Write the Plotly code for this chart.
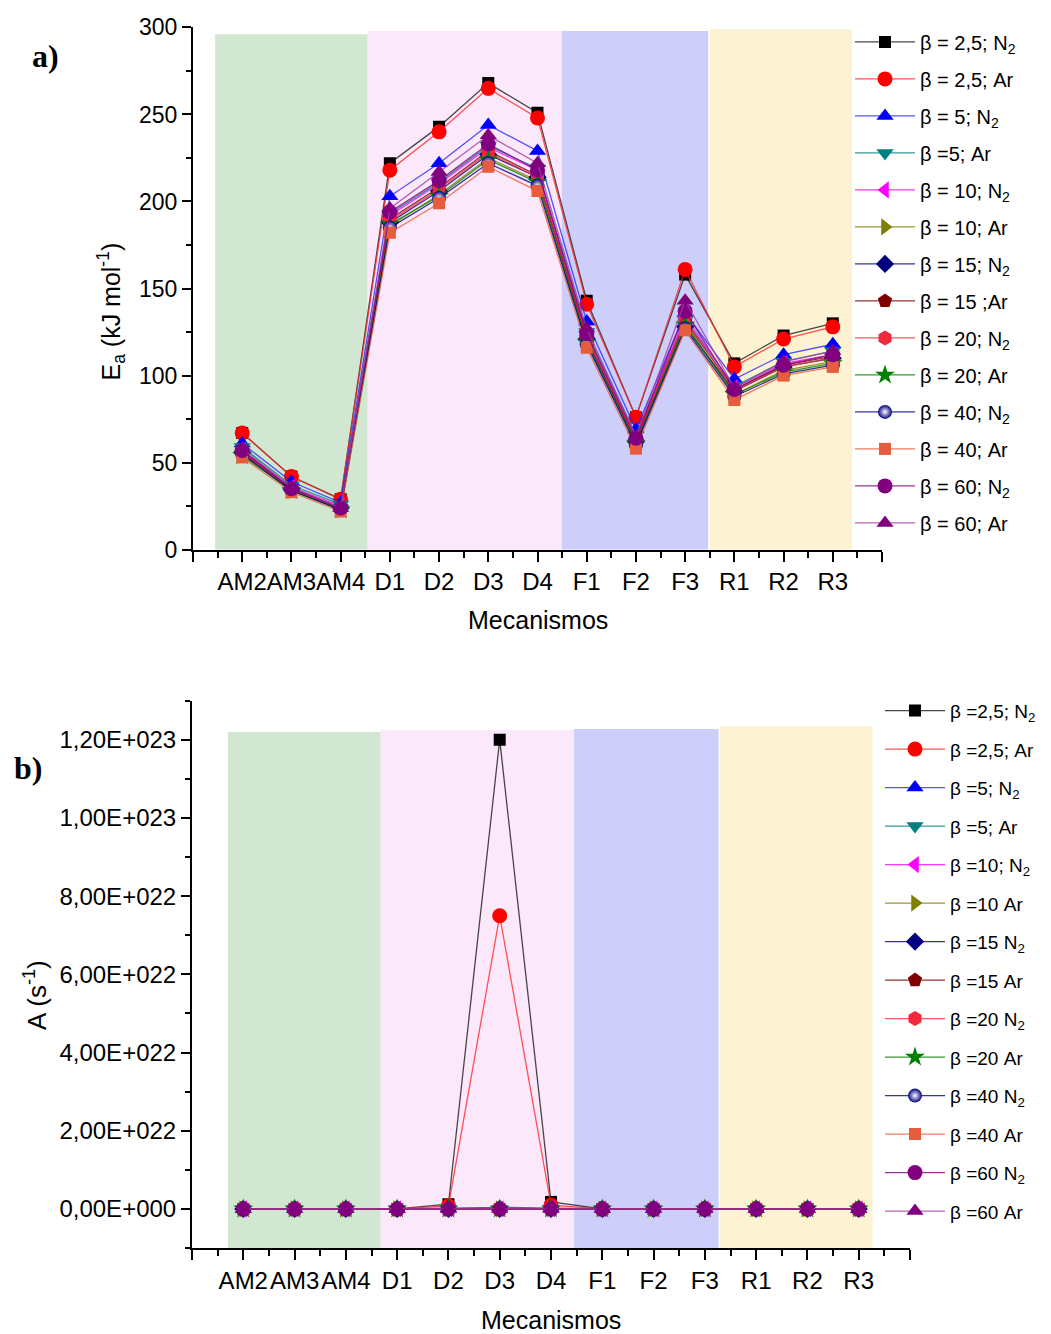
import plotly.graph_objects as go

# ---------------- data ----------------
categories = ["AM2", "AM3", "AM4", "D1", "D2", "D3", "D4", "F1", "F2", "F3", "R1", "R2", "R3"]

# Activation energy Ea (kJ mol-1)
ea_2_5_n2 = [67, 42, 29, 222, 243, 268, 251, 143, 76, 158, 107, 123, 130]
ea_2_5_ar = [67, 42, 29, 218, 240, 265, 248, 141, 76, 161, 105, 121, 128]
ea_5_n2 = [61, 39, 27, 203, 222, 244, 229, 131, 69, 136, 98, 112, 118]
ea_5_ar = [59, 37, 26, 193, 211, 232, 219, 125, 66, 132, 94, 108, 114]
ea_10_n2 = [57, 36, 25, 192, 210, 231, 218, 123, 64, 134, 93, 107, 112]
ea_10_ar = [55, 34, 23, 186, 204, 225, 212, 119, 61, 130, 89, 103, 108]
ea_15_n2 = [56, 35, 24, 188, 206, 227, 214, 121, 62, 128, 91, 105, 110]
ea_15_ar = [56, 35, 24, 190, 208, 229, 215, 121, 63, 131, 92, 106, 111]
ea_20_n2 = [56, 35, 24, 189, 207, 228, 214, 122, 63, 132, 91, 105, 110]
ea_20_ar = [54, 34, 23, 187, 203, 224, 211, 119, 61, 129, 89, 102, 107]
ea_40_n2 = [55, 34, 23, 185, 202, 222, 209, 118, 60, 127, 88, 101, 106]
ea_40_ar = [53, 33, 22, 182, 199, 220, 206, 116, 58, 126, 86, 100, 105]
ea_60_n2 = [57, 35, 24, 194, 212, 233, 218, 124, 64, 137, 92, 106, 112]
ea_60_ar = [58, 36, 24, 196, 217, 238, 222, 127, 65, 143, 93, 108, 114]

# Pre-exponential factor A (s-1)
a_2_5_n2 = [0, 0, 0, 0, 1.2e21, 1.2e23, 1.8e21, 0, 0, 0, 0, 0, 0]
a_2_5_ar = [0, 0, 0, 0, 0.8e21, 7.5e22, 1.0e21, 0, 0, 0, 0, 0, 0]
a_5_n2 = [0, 0, 0, 0, 2e20, 4e20, 2e20, 0, 0, 0, 0, 0, 0]
a_5_ar = [0, 0, 0, 0, 0, 0, 0, 0, 0, 0, 0, 0, 0]
a_10_n2 = [0, 0, 0, 0, 0, 0, 0, 0, 0, 0, 0, 0, 0]
a_10_ar = [0, 0, 0, 0, 0, 0, 0, 0, 0, 0, 0, 0, 0]
a_15_n2 = [0, 0, 0, 0, 0, 0, 0, 0, 0, 0, 0, 0, 0]
a_15_ar = [0, 0, 0, 0, 0, 0, 0, 0, 0, 0, 0, 0, 0]
a_20_n2 = [0, 0, 0, 0, 0, 0, 0, 0, 0, 0, 0, 0, 0]
a_20_ar = [0, 0, 0, 0, 0, 0, 0, 0, 0, 0, 0, 0, 0]
a_40_n2 = [0, 0, 0, 0, 0, 0, 0, 0, 0, 0, 0, 0, 0]
a_40_ar = [0, 0, 0, 0, 0, 0, 0, 0, 0, 0, 0, 0, 0]
a_60_n2 = [0, 0, 0, 0, 0, 0, 0, 0, 0, 0, 0, 0, 0]
a_60_ar = [0, 0, 0, 0, 0, 0, 0, 0, 0, 0, 0, 0, 0]

labels_a = ["β = 2,5; N<sub>2</sub>", "β = 2,5; Ar", "β = 5; N<sub>2</sub>", "β =5; Ar",
            "β = 10; N<sub>2</sub>", "β = 10; Ar", "β = 15; N<sub>2</sub>", "β = 15 ;Ar",
            "β = 20; N<sub>2</sub>", "β = 20; Ar", "β = 40; N<sub>2</sub>", "β = 40; Ar",
            "β = 60; N<sub>2</sub>", "β = 60; Ar"]
labels_b = ["β =2,5; N<sub>2</sub>", "β =2,5; Ar", "β =5; N<sub>2</sub>", "β =5; Ar",
            "β =10; N<sub>2</sub>", "β =10 Ar", "β =15 N<sub>2</sub>", "β =15 Ar",
            "β =20 N<sub>2</sub>", "β =20 Ar", "β =40 N<sub>2</sub>", "β =40 Ar",
            "β =60 N<sub>2</sub>", "β =60 Ar"]

a_tick_vals = [0, 2e22, 4e22, 6e22, 8e22, 1e23, 1.2e23]
a_tick_text = ["0,00E+000", "2,00E+022", "4,00E+022", "6,00E+022", "8,00E+022", "1,00E+023", "1,20E+023"]

ea_series = [ea_2_5_n2, ea_2_5_ar, ea_5_n2, ea_5_ar, ea_10_n2, ea_10_ar, ea_15_n2,
             ea_15_ar, ea_20_n2, ea_20_ar, ea_40_n2, ea_40_ar, ea_60_n2, ea_60_ar]
a_series = [a_2_5_n2, a_2_5_ar, a_5_n2, a_5_ar, a_10_n2, a_10_ar, a_15_n2,
            a_15_ar, a_20_n2, a_20_ar, a_40_n2, a_40_ar, a_60_n2, a_60_ar]

# ---------------- styles ----------------
styles = [
    dict(color="#000000", line="rgba(40,40,40,0.85)", symbol="square", size=12),
    dict(color="#FF0000", line="rgba(255,40,40,0.8)", symbol="circle", size=15),
    dict(color="#0000FF", line="rgba(40,40,255,0.8)", symbol="triangle-up", size=15),
    dict(color="#008080", line="rgba(0,128,128,0.8)", symbol="triangle-down", size=15),
    dict(color="#FF00FF", line="rgba(255,0,255,0.8)", symbol="triangle-left", size=15),
    dict(color="#808000", line="rgba(128,128,0,0.8)", symbol="triangle-right", size=15),
    dict(color="#000080", line="rgba(0,0,128,0.8)", symbol="diamond", size=14),
    dict(color="#800000", line="rgba(128,0,0,0.8)", symbol="pentagon", size=15),
    dict(color="#F02A3C", line="rgba(240,42,60,0.8)", symbol="hexagon", size=15),
    dict(color="#008000", line="rgba(0,128,0,0.8)", symbol="star", size=15),
    dict(color="#000080", line="rgba(0,0,128,0.8)", symbol="circle", size=14, grad=True),
    dict(color="#E65C3C", line="rgba(230,92,60,0.8)", symbol="square", size=12),
    dict(color="#800080", line="rgba(128,0,128,0.8)", symbol="circle", size=15),
    dict(color="#800080", line="rgba(160,60,160,0.8)", symbol="triangle-up", size=15),
]

W, H = 1051, 1334
px = lambda v: v / W


def py(v):
    # target pixel row -> paper fraction (compensates the capture's vertical mapping)
    return 1 - ((v - 13.6) / 0.98) / H


FONT = "Liberation Sans, Arial, sans-serif"
SERIF = "Liberation Serif, Times New Roman, serif"
fig = go.Figure()

xs = list(range(1, len(categories) + 1))

for i, st in enumerate(styles):
    marker = dict(color=st["color"], symbol=st["symbol"], size=st["size"], line=dict(width=0))
    if st.get("grad"):
        marker["gradient"] = dict(type="radial", color="#FFFFFF")
    fig.add_trace(go.Scatter(
        x=xs, y=ea_series[i], mode="lines+markers", name=labels_a[i],
        line=dict(color=st["line"], width=1.3), marker=marker,
        xaxis="x", yaxis="y", legend="legend", legendgroup="a%d" % i,
        hoverinfo="skip"))
for i, st in enumerate(styles):
    marker = dict(color=st["color"], symbol=st["symbol"], size=st["size"], line=dict(width=0))
    if st.get("grad"):
        marker["gradient"] = dict(type="radial", color="#FFFFFF")
    fig.add_trace(go.Scatter(
        x=xs, y=a_series[i], mode="lines+markers", name=labels_b[i],
        line=dict(color=st["line"], width=1.3), marker=marker,
        xaxis="x2", yaxis="y2", legend="legend2", legendgroup="b%d" % i,
        hoverinfo="skip"))

# background regions (AM, D, F, R)
region_colors = ["#D2E7D2", "#FCE8FB", "#CDCFFA", "#FDF3D3"]
regions_a = [(0.45, 3.55, 296), (3.55, 7.49, 298), (7.49, 10.47, 298), (10.5, 13.39, 299)]
regions_b = [(0.70, 3.68, 1.22e23), (3.68, 7.45, 1.225e23), (7.45, 10.27, 1.228e23), (10.3, 13.27, 1.235e23)]
shapes = []
for (x0, x1, y1), c in zip(regions_a, region_colors):
    shapes.append(dict(type="rect", xref="x", yref="y", x0=x0, x1=x1, y0=0, y1=y1,
                       fillcolor=c, line=dict(width=0), layer="below"))
for (x0, x1, y1), c in zip(regions_b, region_colors):
    shapes.append(dict(type="rect", xref="x2", yref="y2", x0=x0, x1=x1, y0=-1e22, y1=y1,
                       fillcolor=c, line=dict(width=0), layer="below"))

tickvals_x = list(range(0, len(categories) + 2))
ticktext_x = [""] + categories + [""]


def xaxis(domain, anchor):
    return dict(domain=domain, anchor=anchor, range=[0, 14], tickmode="array",
                tickvals=tickvals_x, ticktext=ticktext_x, ticks="outside", ticklen=10,
                tickwidth=2, tickcolor="black", linecolor="black", linewidth=2,
                showline=True, showgrid=False, zeroline=False, tickangle=0,
                tickfont=dict(family=FONT, size=24, color="black"),
                minor=dict(tickmode="linear", tick0=0, dtick=0.5, ticks="outside",
                           ticklen=6, tickwidth=2, tickcolor="black", showgrid=False))


def ann(text, x, y, size, family=FONT, angle=0):
    return dict(text=text, x=px(x), y=py(y), xref="paper", yref="paper", xanchor="center",
                yanchor="middle", textangle=angle, showarrow=False,
                font=dict(family=family, size=size, color="black"))


fig.update_layout(
    width=W, height=H, autosize=False,
    margin=dict(l=0, r=0, t=0, b=0),
    paper_bgcolor="white", plot_bgcolor="white",
    font=dict(family=FONT, color="black"),
    shapes=shapes,
    xaxis=xaxis([px(193), px(882)], "y"),
    yaxis=dict(domain=[py(550), py(28)], anchor="x", range=[0, 300], tickmode="linear",
               tick0=0, dtick=50, ticks="outside", ticklen=9, tickwidth=2, tickcolor="black",
               linecolor="black", linewidth=2, showline=True, showgrid=False, zeroline=False,
               tickfont=dict(family=FONT, size=23, color="black"),
               minor=dict(tickmode="linear", tick0=0, dtick=25, ticks="outside", ticklen=5,
                          tickwidth=2, tickcolor="black", showgrid=False)),
    xaxis2=xaxis([px(192), px(910)], "y2"),
    yaxis2=dict(domain=[py(1248), py(701)], anchor="x2", range=[-1e22, 1.3e23], tickmode="array",
                tickvals=a_tick_vals, ticktext=a_tick_text, ticks="outside", ticklen=9, tickwidth=2,
                tickcolor="black", linecolor="black", linewidth=2, showline=True, showgrid=False,
                zeroline=False, tickfont=dict(family=FONT, size=24, color="black"),
                minor=dict(tickmode="linear", tick0=0, dtick=1e22, ticks="outside", ticklen=5,
                           tickwidth=2, tickcolor="black", showgrid=False)),
    legend=dict(x=px(850), y=py(23), xanchor="left", yanchor="top", bgcolor="rgba(0,0,0,0)",
                font=dict(family=FONT, size=20, color="black"), itemwidth=60,
                tracegroupgap=8, traceorder="grouped"),
    legend2=dict(x=px(880), y=py(692), xanchor="left", yanchor="top", bgcolor="rgba(0,0,0,0)",
                 font=dict(family=FONT, size=19, color="black"), itemwidth=60,
                 tracegroupgap=10.8, traceorder="grouped"),
    annotations=[
        ann("E<sub>a</sub> (kJ mol<sup>-1</sup>)", 111, 312, 25, angle=-90),
        ann("A (s<sup>-1</sup>)", 36, 995, 26, angle=-90),
        ann("Mecanismos", 538, 620, 25),
        ann("Mecanismos", 551, 1320, 25),
        ann("<b>a)</b>", 45, 57, 32, family=SERIF),
        ann("<b>b)</b>", 28, 768, 32, family=SERIF),
    ],
)

fig.write_html("out.html")
